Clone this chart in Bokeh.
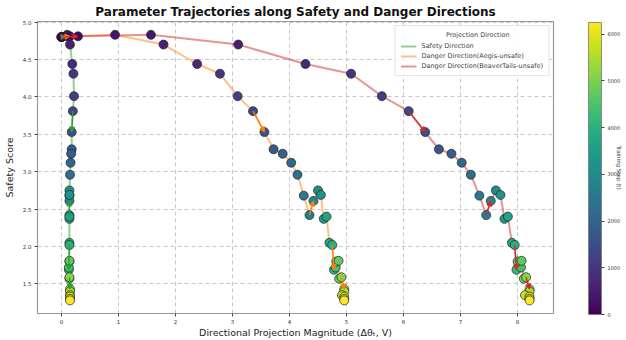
from bokeh.plotting import figure
from bokeh.models import (ColumnDataSource, ColorBar, FixedTicker, PrintfTickFormatter,
                          Arrow, NormalHead, Legend, LegendItem, Range1d, LinearAxis,
                          LinearColorMapper)
from bokeh.palettes import Viridis256
from bokeh.embed import file_html
from bokeh.resources import INLINE

# Checkpoints along training
steps = [0, 189, 379, 568, 758, 947, 1136, 1326, 1515, 1705, 1894, 2083, 2273, 2462,
         2652, 2841, 3030, 3220, 3409, 3598, 3788, 3977, 4167, 4356, 4545, 4735, 4924,
         5114, 5303, 5492, 5682, 5871, 6061, 6250]

# Safety score at each checkpoint
safety_score = [4.80, 4.81, 4.83, 4.70, 4.44, 4.31, 4.01, 3.81, 3.53, 3.30, 3.24, 3.12,
                2.96, 2.68, 2.42, 2.61, 2.75, 2.69, 2.37, 2.40, 2.05, 2.02, 1.69, 1.72,
                1.80, 1.81, 1.57, 1.59, 1.43, 1.40, 1.35, 1.33, 1.30, 1.28]

# Projection magnitude of the parameter update onto each direction
proj_safety = [0.00, 0.08, 0.10, 0.15, 0.19, 0.21, 0.22, 0.20, 0.18, 0.18, 0.17, 0.16,
               0.15, 0.14, 0.14, 0.14, 0.14, 0.14, 0.14, 0.14, 0.14, 0.14, 0.13, 0.13,
               0.14, 0.14, 0.14, 0.14, 0.15, 0.15, 0.15, 0.15, 0.15, 0.15]
proj_aegis = [0.00, 0.15, 0.94, 1.79, 2.38, 2.78, 3.09, 3.36, 3.56, 3.72, 3.88, 4.03,
              4.14, 4.25, 4.35, 4.42, 4.50, 4.55, 4.60, 4.65, 4.70, 4.75, 4.78, 4.81,
              4.82, 4.86, 4.87, 4.91, 4.96, 4.96, 4.92, 4.96, 4.96, 4.96]
proj_beaver = [0.00, 0.29, 1.57, 3.10, 4.28, 5.08, 5.62, 6.09, 6.38, 6.62, 6.84, 7.02,
               7.18, 7.33, 7.45, 7.53, 7.62, 7.70, 7.77, 7.83, 7.90, 7.95, 7.98, 8.06,
               8.00, 8.07, 8.11, 8.15, 8.21, 8.21, 8.13, 8.21, 8.21, 8.21]

# Segments marked with a direction arrow
arrow_idx = [0, 7, 14, 21, 27]

series = [
    ("Safety Direction", proj_safety, "#2ca02c"),
    ("Danger Direction(Aegis-unsafe)", proj_aegis, "#ff7f0e"),
    ("Danger Direction(BeaverTails-unsafe)", proj_beaver, "#d62728"),
]

FONT = "DejaVu Sans"
STEP_MAX = 6250
X0, X1 = -0.42, 8.63
Y0, Y1 = 1.105, 5.008

p = figure(width=626, height=340, output_backend="svg", toolbar_location=None,
           x_range=Range1d(X0, X1), y_range=Range1d(Y0, Y1),
           min_border_left=33, min_border_right=73, min_border_top=21,
           min_border_bottom=27)
p.title.text = "Parameter Trajectories along Safety and Danger Directions"
p.title.align = "center"
p.title.text_font = FONT
p.title.text_font_size = "12px"
p.title.text_font_style = "bold"
p.title.text_color = "#111111"
p.title.standoff = 5

mapper = LinearColorMapper(palette=Viridis256, low=0, high=STEP_MAX)

line_renderers = []
for label, xs, color in series:
    r = p.line(xs, safety_score, line_color=color, line_alpha=0.5, line_width=2)
    line_renderers.append(r)

for label, xs, color in series:
    src = ColumnDataSource(dict(x=xs, y=safety_score, step=steps))
    p.scatter("x", "y", source=src, size=9,
              fill_color={"field": "step", "transform": mapper},
              line_color="#222222", line_width=0.7)

for label, xs, color in series:
    asrc = ColumnDataSource(dict(
        x0=[xs[i] for i in arrow_idx], y0=[safety_score[i] for i in arrow_idx],
        x1=[xs[i + 1] for i in arrow_idx], y1=[safety_score[i + 1] for i in arrow_idx]))
    p.add_layout(Arrow(source=asrc, x_start="x0", y_start="y0", x_end="x1", y_end="y1",
                       line_color=color, line_width=1.3,
                       end=NormalHead(size=5, fill_color=color, line_color=color)))

# axes
p.xaxis.ticker = FixedTicker(ticks=[0, 1, 2, 3, 4, 5, 6, 7, 8])
p.xaxis.formatter = PrintfTickFormatter(format="%d")
p.yaxis.ticker = FixedTicker(ticks=[1.5, 2.0, 2.5, 3.0, 3.5, 4.0, 4.5, 5.0])
p.yaxis.formatter = PrintfTickFormatter(format="%.1f")
p.xaxis.axis_label = "Directional Projection Magnitude (Δθₜ, V)"
p.yaxis.axis_label = "Safety Score"
for ax in (p.xaxis, p.yaxis):
    ax.axis_label_text_font = FONT
    ax.axis_label_text_font_size = "9.5px"
    ax.axis_label_text_font_style = "normal"
    ax.axis_label_text_color = "#222222"
    ax.major_label_text_font = FONT
    ax.major_label_text_font_size = "5.5px"
    ax.major_label_text_color = "#333333"
    ax.axis_line_color = None
    ax.major_tick_line_color = "#444444"
    ax.major_tick_out = 3
    ax.major_tick_in = 0
    ax.minor_tick_line_color = None
p.xaxis.axis_label_standoff = 0
p.xaxis.major_label_standoff = 2
p.yaxis.axis_label_standoff = 5
p.yaxis.major_label_standoff = 3

p.outline_line_color = "#999999"
p.outline_line_width = 1.2
for g in (p.xgrid, p.ygrid):
    g.grid_line_color = "#c8c8c8"
    g.grid_line_dash = "4 3"
    g.grid_line_width = 1

legend = Legend(items=[LegendItem(label=s[0], renderers=[r])
                       for s, r in zip(series, line_renderers)],
                title="\u00a0" * 22 + "Projection Direction", location="top_right")
legend.title_text_font = FONT
legend.title_text_font_size = "6.5px"
legend.title_text_font_style = "normal"
legend.title_standoff = 3
legend.label_text_font = FONT
legend.label_text_font_size = "6.5px"
legend.label_height = 8
legend.glyph_height = 8
legend.glyph_width = 16
legend.label_standoff = 5
legend.spacing = 2
legend.padding = 5
legend.margin = 4
legend.border_line_color = "#cccccc"
legend.background_fill_alpha = 0.85
p.add_layout(legend)

# colour bar sits to the right of the frame, same height as the frame
cbar = ColorBar(color_mapper=mapper, width=13, height=292,
                ticker=FixedTicker(ticks=[0, 1000, 2000, 3000, 4000, 5000, 6000]),
                major_label_text_font=FONT, major_label_text_font_size="5px",
                major_label_text_color="#333333",
                major_tick_line_color="#444444", major_tick_out=3, major_tick_in=0,
                bar_line_color="#777777", bar_line_width=0.8,
                margin=0, padding=0, label_standoff=3, background_fill_alpha=0,
                location=(551, -1))
p.add_layout(cbar)

# caption for the colour bar, carried by a bare axis on the right
cap_axis = LinearAxis(ticker=FixedTicker(ticks=[]), axis_line_color=None,
                      major_tick_line_color=None, minor_tick_line_color=None,
                      axis_label="Training Step (t)", axis_label_standoff=62,
                      axis_label_text_font=FONT, axis_label_text_font_size="5.5px",
                      axis_label_text_font_style="normal",
                      axis_label_text_color="#333333")
p.add_layout(cap_axis, "right")

open("out.html", "w").write(file_html(p, INLINE))
